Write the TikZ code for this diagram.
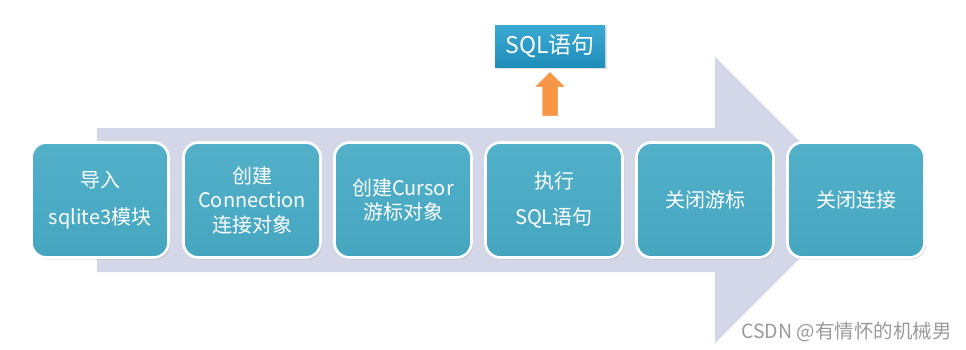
\documentclass[tikz,border=0pt]{standalone}
\usepackage{fontspec}
\setmainfont{Noto Sans CJK SC}
\usetikzlibrary{shadows}
\definecolor{steptop}{HTML}{52B0C9}
\definecolor{stepbot}{HTML}{46A6C0}
\definecolor{bigarrow}{HTML}{D3D7E8}
\definecolor{sqltop}{HTML}{3BAAD3}
\definecolor{sqlbot}{HTML}{1F8DB9}
\definecolor{orangearr}{HTML}{F79646}
\definecolor{wmark}{HTML}{9A9A9A}
\tikzset{
  stepbox/.style={rectangle, rounded corners=15pt, minimum width=137pt, minimum height=115pt,
    top color=steptop, bottom color=stepbot, draw=white, line width=2.6pt,
    drop shadow={shadow xshift=1.5pt, shadow yshift=-2pt, opacity=0.25},
    text=white, align=center, font=\fontsize{20}{24.5}\selectfont, inner sep=0pt},
  sqlbox/.style={rectangle, minimum width=110pt, minimum height=42pt,
    top color=sqltop, bottom color=sqlbot, draw=none,
    drop shadow={shadow xshift=1.5pt, shadow yshift=-2pt, opacity=0.25},
    text=white, font=\fontsize{23}{26}\selectfont, inner sep=0pt},
  wmarkstyle/.style={text=wmark, font=\fontsize{19.5}{21}\selectfont, inner sep=0pt, anchor=east}
}
\begin{document}
\begin{tikzpicture}[x=1pt,y=-1pt]
\useasboundingbox (0,0) rectangle (966,349);
\fill[white] (0,0) rectangle (966,349);
% big background arrow
\coordinate (a1) at (97,128);
\coordinate (a2) at (715,128);
\coordinate (a3) at (715,57);
\coordinate (a4) at (858,200);
\coordinate (a5) at (715,343);
\coordinate (a6) at (715,272);
\coordinate (a7) at (97,272);
\fill[bigarrow] (a1) -- (a2) -- (a3) -- (a4) -- (a5) -- (a6) -- (a7) -- cycle;
% steps
\node[stepbox] (s1) at (100,200) {导入\\[13pt]sqlite3模块};
\node[stepbox] (s2) at (252,200) {创建\\Connection\\连接对象};
\node[stepbox] (s3) at (403,200) {创建Cursor\\游标对象};
\node[stepbox] (s4) at (554,200) {执行\\[11pt]SQL语句};
\node[stepbox] (s5) at (705,200) {关闭游标};
\node[stepbox] (s6) at (856,200) {关闭连接};
% SQL box
\node[sqlbox] (sql) at (550,46) {SQL语句};
% orange block arrow
\coordinate (o1) at (541,117);
\coordinate (o2) at (541,88);
\coordinate (o3) at (532,88);
\coordinate (o4) at (550,70);
\coordinate (o5) at (568,88);
\coordinate (o6) at (559,88);
\coordinate (o7) at (559,117);
\draw[white, line width=2.5pt, fill=orangearr, line join=miter] (o1) -- (o2) -- (o3) -- (o4) -- (o5) -- (o6) -- (o7) -- cycle;
% watermark
\node[wmarkstyle] (wm) at (952,332) {CSDN @有情怀的机械男};
\end{tikzpicture}
\end{document}
